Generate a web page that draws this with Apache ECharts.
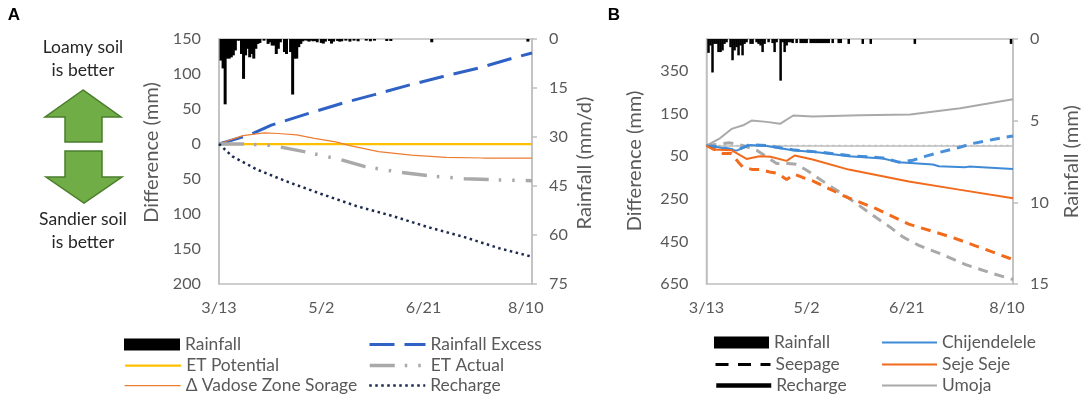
<!DOCTYPE html>
<html><head><meta charset="utf-8">
<script src="https://cdn.jsdelivr.net/npm/echarts@6/dist/echarts.min.js"></script>
<style>html,body{margin:0;padding:0;background:#fff}#a,#b{position:absolute;top:0;height:395px}#a{left:0;width:600px}#b{left:600px;width:484px}</style>
</head><body><div id="a"></div><div id="b"></div>
<script>
const dateLabels=['3/13','5/2','6/21','8/10'];
// Panel A
const rainDaysA=[1,2,3,4,5,6,7,8,9,10,11,12,13,14,15,16,17,18,19,20,22,24,25,26,27,28,29,30,32,33,35,36,37,38,39,40,41,42,43,44,45,46,47,48,50,51,52,54,55,56,58,59,60,62,64,66,68,72,74,76,82,84,104,151];
const rainValsA=[6.6,9,20,6,6,5.6,5,3.5,.5,.5,4.6,12.2,5,3,5.6,4.6,6,3,1.5,1.2,.5,1.5,1,2,2,4.6,3,1,4,4.6,4,17,6,6,2.5,1.5,.7,.4,.5,.8,.5,.7,.6,1,1.2,1.4,.8,.6,1.4,.8,.6,.8,.7,.5,.8,.5,.7,.5,.7,.5,.6,.6,1,.8];
const excessDays=[0,15,25.6,43,60.5,76,94,109,127,144,153];
const excessVals=[0,13,27,43,58.5,70.5,85,96,108.5,123,130];
const etPotDays=[0,153];
const etPotVals=[0,0];
const vadoseDays=[0,4.7,11.7,22,29,38,46.6,57,64,78,94,111,129,153];
const vadoseVals=[0,5,12,16,15,13,8,3,-2.4,-11,-16,-19,-20,-20];
const etActDays=[0,12,25.7,41,59,71,88.5,104,120,137,153];
const etActVals=[0,0,-2,-10.5,-22,-32,-40.5,-46,-49.5,-51.4,-52.4];
const rechargeDays=[0,6.5,18.7,32.6,50,67.5,85,102.4,120,137,153];
const rechargeVals=[0,-17.6,-36.7,-53,-71.4,-89,-103,-119,-133,-149,-161];
// Panel B
const rainDaysB=[1,2,3,4,5,6,7,8,9,10,12,13,14,15,16,17,18,19,20,22,23,25,26,27,28,29,31,33,34,35,37,38,39,40,41,42,43,45,47,48,49,50,52,53,54,55,56,57,58,59,60,61,63,66,67,71,78,82,104,152];
const rainValsB=[.85,.4,2.05,.3,.3,.8,.8,.7,.3,.2,.5,1.3,.7,.5,1,.4,1,.3,.2,.3,.3,.2,.3,.4,.8,.3,.2,.25,.8,.2,2.55,.2,.8,.4,.2,.2,.25,.25,.25,.25,.25,.25,.25,.25,.25,.25,.25,.25,.25,.25,.25,.25,.25,.25,.25,.3,.3,.3,.3,.3];
const chijSolidDays=[0,6.6,15,21.6,30,43,56.4,71,88,96,113,116,129,131,153];
const chijSolidVals=[0,-9,-24,2,-2,-22,-33,-50,-61,-78,-89,-97,-102,-99,-110];
const chijDashDays=[0,6.6,15,21.6,30,43,56.4,71,88,96,103,109.5,116,126,132.6,143,153];
const chijDashVals=[0,-8,-22,4,0,-20,-31,-47,-58,-78,-69,-50,-33,-9,9,28,45];
const sejeSolidDays=[0,3.3,12.4,20,26.5,32,40,44,53,71,101,126,153];
const sejeSolidVals=[0,-19,-22,-63,-50,-53,-72,-47,-66,-113,-169,-207,-247];
const sejeDashDays=[0,8.3,12.4,15.8,18,23,26.5,31.5,35.7,40,44,48,53,61,69.6,84.6,101,123,153];
const sejeDashVals=[0,-37.6,-37.6,-77,-100,-113,-113,-124,-131,-160,-135,-150,-166,-202,-241,-296,-369,-432,-535];
const umojaDashDays=[0,11.6,18,25,35,40.6,44.8,50,59.7,69.6,76,83,91.5,98,106,116,129.4,142.6,153];
const umojaDashVals=[0,12.5,0,-22,-84,-84,-88,-116,-178,-238,-280,-327,-382,-429,-469,-505,-559,-600,-629];
const umojaSolidDays=[0,6.7,12.5,18.3,22.5,30,36.7,43.3,53,76.7,101.7,126.7,153];
const umojaSolidVals=[0,34,78,95,117,111,102,141,136,142,146,175,217];
const zeroDays=[0,153];
const zeroVals=[0,0];
const leftTicksB=[-650,-450,-250,-50,150,350];

const FONT='Lato', GREY='#595959', AXIS='#bfbfbf', TICK=16.2;
const zip=(d,v)=>d.map((x,i)=>[x,v[i]]);
const txt=(text,x,y,extra)=>({type:'text',x,y,style:Object.assign({text,font:'17.5px '+FONT,fill:'#262626',align:'center',verticalAlign:'middle'},extra||{})});
const axisTitle=(text,x,y)=>Object.assign(txt(text,x,y,{font:'20.1px '+FONT,fill:GREY}),{rotation:Math.PI/2});
function line(name,days,vals,color,width,dash){return {name,type:'line',yAxisIndex:0,showSymbol:false,symbol:'none',silent:true,data:zip(days,vals),lineStyle:{color,width,type:dash||'solid',cap:'butt'},itemStyle:{color}};}
function rain(days,vals,w){return {name:'Rainfall',type:'bar',yAxisIndex:1,barWidth:w,data:zip(days,vals),itemStyle:{color:'#000'},silent:true};}
function legends(items,w){return items.map(it=>{
  const isRain=it[0]==='Rainfall';
  return {show:true,orient:'horizontal',left:it[1],top:it[2],padding:0,itemWidth:w,itemHeight:12,selectedMode:false,
    data:[isRain?{name:it[0],icon:'rect'}:it[0]],
    itemStyle:isRain?{}:{opacity:0},
    lineStyle:{width:'inherit'},
    textStyle:{fontFamily:FONT,fontSize:17.4,color:GREY}};
});}
function base(c){
 return {animation:false,backgroundColor:'#fff',textStyle:{fontFamily:FONT},
  grid:{left:c.left,top:39,width:c.width,height:245,show:true,borderColor:AXIS,borderWidth:1.5,backgroundColor:'transparent'},
  legend:legends(c.legend,c.legendW),
  xAxis:{type:'value',min:0,max:153,interval:50,splitLine:{show:false},axisTick:{show:false},axisLine:{lineStyle:{color:AXIS,width:1.5}},
   axisLabel:{showMaxLabel:false,margin:16,fontFamily:FONT,fontSize:TICK,color:GREY,formatter:v=>dateLabels[v/50]}},
  yAxis:[c.left0,Object.assign({type:'value',position:'right',inverse:true,min:0,splitLine:{show:false},
    axisLine:{show:true,lineStyle:{color:AXIS,width:1.5}},axisTick:{show:true,length:5,lineStyle:{color:AXIS,width:1.5}},
    axisLabel:{margin:17,fontFamily:FONT,fontSize:TICK,color:GREY}},c.right)],
  series:c.series,graphic:c.graphic};
}
const leftCommon={type:'value',position:'left',splitLine:{show:false},axisLine:{show:true,lineStyle:{color:AXIS,width:1.5}},axisTick:{show:false}};

const arrowStyle={fill:'#70ad47',stroke:'#4a7d2c',lineWidth:1.5};
echarts.init(document.getElementById('a')).setOption(base({
 left:219,width:313,legendW:56,
 left0:Object.assign({},leftCommon,{min:-200,max:150,interval:50,
   axisLabel:{margin:18,fontFamily:FONT,fontSize:TICK,color:GREY,formatter:v=>String(Math.abs(v))}}),
 right:{max:75,interval:15},
 legend:[['Rainfall',124,336],['ET Potential',124,357],['Δ Vadose Zone Sorage',124,377],['Rainfall Excess',368,336],['ET Actual',368,357],['Recharge',368,377]],
 series:[rain(rainDaysA,rainValsA,3),
  line('Rainfall Excess',excessDays,excessVals,'#2f62c4',3,[25,10]),
  line('ET Potential',etPotDays,etPotVals,'#ffc000',2.25),
  line('Δ Vadose Zone Sorage',vadoseDays,vadoseVals,'#ed7d31',1.25),
  line('ET Actual',etActDays,etActVals,'#a9a9a9',3.5,[25,10,2.5,11,2.5,11]),
  line('Recharge',rechargeDays,rechargeVals,'#1b2a4e',2.5,[2.5,3.5])],
 graphic:[
  txt('A',14,15,{font:'bold 17px "Liberation Sans"',fill:'#000'}),
  axisTitle('Difference (mm)',151.5,152.5),
  axisTitle('Rainfall (mm/d)',585,163),
  txt('Loamy soil',83,47),txt('is better',83,70),txt('Sandier soil',83,219),txt('is better',83,242),
  {type:'polygon',shape:{points:[[83,90],[45,117],[65,117],[65,142],[102,142],[102,117],[121,117]]},style:arrowStyle},
  {type:'polygon',shape:{points:[[65,151],[102,151],[102,177],[122,177],[84,203],[46,177],[65,177]]},style:arrowStyle}
 ]}));
echarts.init(document.getElementById('b')).setOption(base({
 left:106.5,width:306.5,legendW:55,
 left0:Object.assign({},leftCommon,{min:-650,max:500,
   axisLabel:{margin:18,fontFamily:FONT,fontSize:TICK,color:GREY,customValues:leftTicksB,formatter:v=>String(Math.abs(v))}}),
 right:{max:15,interval:5},
 legend:[['Rainfall',114,334],['Seepage',114,356],['Recharge',114,377],['Chijendelele',281,334],['Seje Seje',281,356],['Umoja',281,377]],
 series:[rain(rainDaysB,rainValsB,2.5),
  line('Seepage',[],[],'#000',3,[13,9.5]),
  line('Recharge',[],[],'#000',4.5),
  line('Zero line',zeroDays,zeroVals,'#bdbdbd',1.5,[2,4]),
  line('Umoja seepage',umojaDashDays,umojaDashVals,'#a9a9a9',3,[10,7]),
  line('Chijendelele seepage',chijDashDays,chijDashVals,'#4a90d9',3,[10,7]),
  line('Seje Seje seepage',sejeDashDays,sejeDashVals,'#f26a1b',3,[10,7]),
  line('Umoja',umojaSolidDays,umojaSolidVals,'#a9a9a9',2),
  line('Chijendelele',chijSolidDays,chijSolidVals,'#3f8ad6',2),
  line('Seje Seje',sejeSolidDays,sejeSolidVals,'#f26a1b',2)],
 graphic:[txt('B',14,15,{font:'bold 17px "Liberation Sans"',fill:'#000'}),
  axisTitle('Difference (mm)',35,161),
  axisTitle('Rainfall (mm)',471.7,161.7)]}));
</script></body></html>
